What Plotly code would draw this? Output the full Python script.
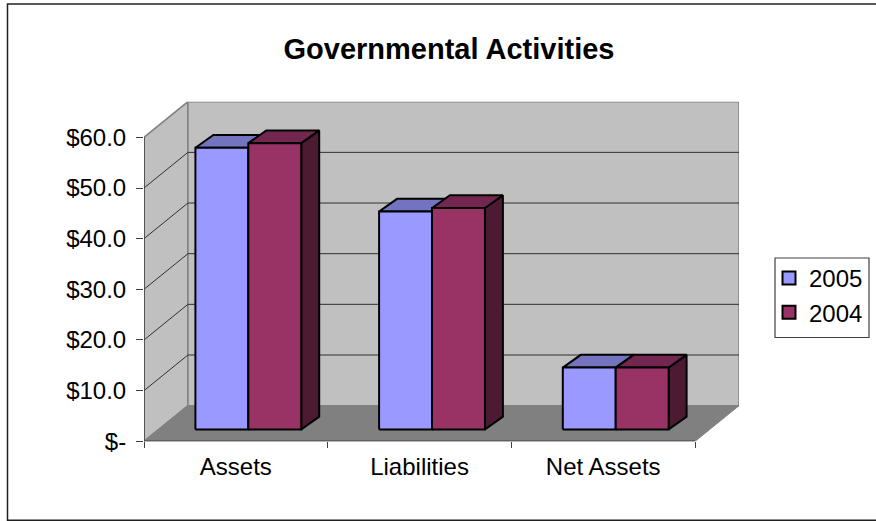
import plotly.graph_objects as go

# Chart values
categories = ["Assets", "Liabilities", "Net Assets"]
values_2005 = [55.6, 43.0, 12.2]
values_2004 = [56.5, 43.7, 12.2]
y_ticks = [0, 10, 20, 30, 40, 50, 60]
y_tick_labels = ["$-", "$10.0", "$20.0", "$30.0", "$40.0", "$50.0", "$60.0"]

# Oblique projection of the box: how far the back plane is shifted, in axis units
WALL_DX = 44 / 184
WALL_DY = 35.6 / 5.06
Y_TOP = y_ticks[-1]
N = len(categories)

# Placement of the columns inside each category slot, in axis units
BAR_LEFT = 51.5 / 184
BAR_WIDTH = 53 / 184
BAR_LIFT = 11.9 / 5.06
BAR_DX = 18 / 184
BAR_DY = 12.7 / 5.06

WALL = "#c0c0c0"
FLOOR = "#808080"
EDGE = "#808080"
SERIES = [
    dict(name="2005", values=values_2005, slot=0, front="#9999ff", top="#7373bf", side="#4d4d80"),
    dict(name="2004", values=values_2004, slot=1, front="#993366", top="#732650", side="#4d1a33"),
]

fig = go.Figure()


def polygon(xs, ys, fill, group=None, line="black", width=2):
    fig.add_trace(go.Scatter(
        x=xs + xs[:1], y=ys + ys[:1], mode="lines", fill="toself", fillcolor=fill,
        line=dict(color=line, width=width), hoverinfo="skip", showlegend=False,
        legendgroup=group,
    ))


def segment(xs, ys, color, width):
    fig.add_trace(go.Scatter(
        x=xs, y=ys, mode="lines", line=dict(color=color, width=width),
        hoverinfo="skip", showlegend=False,
    ))


# Walls and floor of the box
polygon([0, WALL_DX, WALL_DX, 0], [0, WALL_DY, Y_TOP + WALL_DY, Y_TOP], WALL, line=EDGE, width=1.5)
polygon([WALL_DX, N + WALL_DX, N + WALL_DX, WALL_DX],
        [WALL_DY, WALL_DY, Y_TOP + WALL_DY, Y_TOP + WALL_DY], WALL, line=EDGE, width=1.5)
polygon([0, N, N + WALL_DX, WALL_DX], [0, 0, WALL_DY, WALL_DY], FLOOR, line=EDGE, width=1)

# Gridlines run along the side wall, then across the back wall
for tick in y_ticks[1:-1]:
    segment([0, WALL_DX, N + WALL_DX], [tick, tick + WALL_DY, tick + WALL_DY], "#303030", 1)

# Front edge of the value axis and of the category axis
segment([0, 0], [0, Y_TOP], "#404040", 1.5)
segment([0, N], [0, 0], "#404040", 1.5)

# Columns: each one is a front face, a top face and a right side
for i in range(N):
    for s in SERIES:
        x0 = i + BAR_LEFT + s["slot"] * BAR_WIDTH
        x1 = x0 + BAR_WIDTH
        y0 = BAR_LIFT
        y1 = s["values"][i] + BAR_LIFT
        g = s["name"]
        polygon([x1, x1 + BAR_DX, x1 + BAR_DX, x1],
                [y0, y0 + BAR_DY, y1 + BAR_DY, y1], s["side"], g)
        polygon([x0, x1, x1 + BAR_DX, x0 + BAR_DX],
                [y1, y1, y1 + BAR_DY, y1 + BAR_DY], s["top"], g)
        polygon([x0, x1, x1, x0], [y0, y0, y1, y1], s["front"], g)

# Legend entries
for s in SERIES:
    fig.add_trace(go.Scatter(
        x=[None], y=[None], mode="markers", name=s["name"], legendgroup=s["name"],
        marker=dict(symbol="square", size=13, color=s["front"], line=dict(color="black", width=2)),
    ))

W, H = 876, 521
FONT = "Liberation Sans, Arial, sans-serif"
fig.update_layout(
    width=W, height=H, autosize=False,
    margin=dict(l=0, r=0, t=0, b=0, autoexpand=False),
    paper_bgcolor="white", plot_bgcolor="white",
    font=dict(family=FONT, size=24, color="black"),
    xaxis=dict(
        domain=[144 / W, 739 / W], range=[0, N + WALL_DX], showgrid=False, zeroline=False,
        tickmode="array", tickvals=[i + 0.5 for i in range(N)], ticktext=categories,
        ticks="", ticklen=6, tickfont=dict(size=24), ticklabelstandoff=9,
        minor=dict(tickmode="array", tickvals=list(range(N + 1)), ticks="outside",
                   ticklen=6, tickcolor="#404040", tickwidth=1, showgrid=False),
    ),
    yaxis=dict(
        domain=[1 - 441.3 / H, 1 - 101.7 / H], range=[0, Y_TOP + WALL_DY], showgrid=False,
        zeroline=False, tickmode="array", tickvals=y_ticks, ticktext=y_tick_labels,
        ticks="outside", ticklen=7, tickcolor="#404040", tickwidth=1, tickfont=dict(size=24),
        ticklabelstandoff=5,
    ),
    title=dict(text="<b>Governmental Activities</b>", x=449 / W, xanchor="center",
               y=1 - 49 / H, yanchor="middle", font=dict(size=29, family=FONT, color="black")),
    legend=dict(x=769 / W, y=1 - 256 / H, xanchor="left", yanchor="top",
                borderwidth=0, bgcolor="rgba(0,0,0,0)", font=dict(size=24),
                tracegroupgap=17, traceorder="normal"),
    shapes=[
        # Outer chart frame, running past the right edge of the page
        dict(type="rect", xref="paper", yref="paper", x0=7.5 / W, x1=1.01,
             y0=1 - 520.3 / H, y1=1 - 4 / H, line=dict(color="#202020", width=1.5)),
        # Legend frame
        dict(type="rect", xref="paper", yref="paper", x0=775 / W, x1=869 / W,
             y0=1 - 337.5 / H, y1=1 - 258 / H, line=dict(color="#404040", width=1.2)),
    ],
)

fig.write_html("out.html")
